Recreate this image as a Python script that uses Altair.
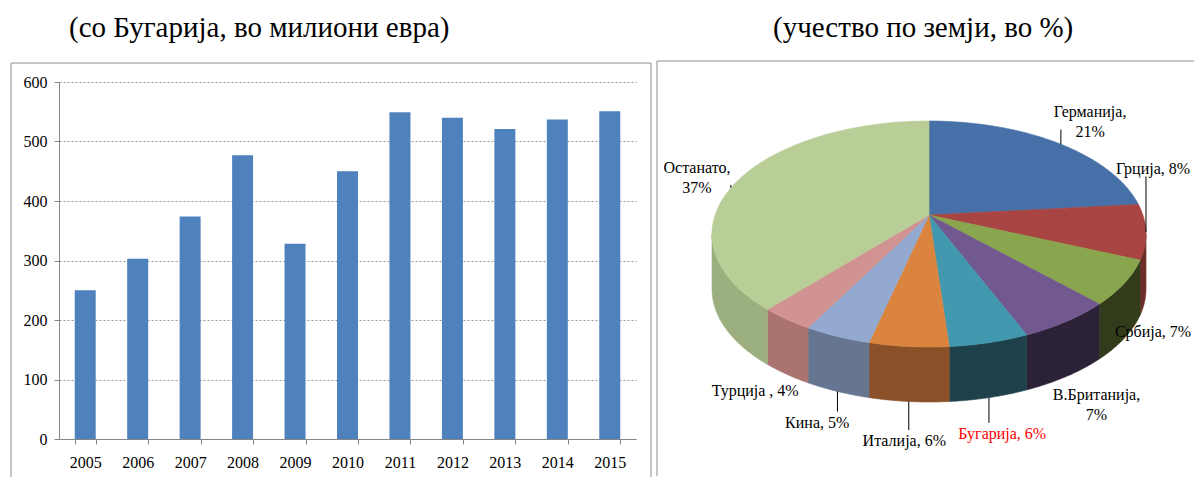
import altair as alt
import pandas as pd

# ---------------- data ----------------
years = ["2005", "2006", "2007", "2008", "2009", "2010", "2011", "2012", "2013", "2014", "2015"]
exports = [250, 303, 374, 477, 328, 450, 549, 540, 521, 537, 551]

countries = ["Германија", "Грција", "Србија", "В.Британија", "Бугарија",
             "Италија", "Кина", "Турција", "Останато"]
shares = [21, 8, 7, 7, 6, 6, 5, 4, 37]
labels = ["Германија,\n21%", "Грција, 8%", "Србија, 7%", "В.Британија,\n7%",
          "Бугарија, 6%", "Италија, 6%", "Кина, 5%", "Турција , 4%", "Останато,\n37%"]
has_leader = [True, True, False, False, True, True, True, False, True]

title_left = "(со Бугарија, во милиони евра)"
title_right = "(учество по земји, во %)"

top_colors = ["#4670A7", "#A84442", "#89A54E", "#71588F", "#4198AF",
              "#DB843D", "#93A9CF", "#D19392", "#B9CD96"]
wall_colors = ["#2F4A70", "#6E2C2A", "#323C1A", "#2B2238", "#1E414B",
               "#8A5128", "#667691", "#AA7370", "#9CAF7E"]

FONT = "Liberation Serif, Times New Roman, DejaVu Serif, serif"
FRAME = "#8C8C8C"

# ---------------- left panel: bar chart ----------------
W1, H1 = 577, 357
bar_df = pd.DataFrame({"year": years, "value": exports})
one = pd.DataFrame({"k": [0]})

bars = alt.Chart(bar_df).mark_bar(color="#4F81BD").encode(
    x=alt.X("year:O", sort=years,
            scale=alt.Scale(paddingInner=0.6, paddingOuter=0.3),
            axis=alt.Axis(title=None, labelAngle=0, labelFont=FONT, labelFontSize=16,
                          labelColor="black", domainColor="#868686", tickColor="#868686",
                          tickSize=5, tickBand="extent", labelPadding=10, grid=False)),
    y=alt.Y("value:Q", scale=alt.Scale(domain=[0, 600], nice=False),
            axis=alt.Axis(title=None, values=[0, 100, 200, 300, 400, 500, 600],
                          labelFont=FONT, labelFontSize=16, labelColor="black",
                          domainColor="#868686", tickColor="#868686", tickSize=5,
                          labelPadding=7, grid=True, gridColor="#9A9A9A",
                          gridDash=[2, 2], gridWidth=1)),
)

lf_left = alt.Chart(one).mark_rule(color=FRAME, strokeWidth=1).encode(
    x=alt.value(-48), y=alt.value(-19), y2=alt.value(395))
lf_right = alt.Chart(one).mark_rule(color=FRAME, strokeWidth=1).encode(
    x=alt.value(W1 + 15), y=alt.value(-19), y2=alt.value(395))
lf_top = alt.Chart(one).mark_rule(color=FRAME, strokeWidth=1).encode(
    x=alt.value(-48), x2=alt.value(W1 + 15), y=alt.value(-19))

t_left = alt.Chart(pd.DataFrame({"t": [title_left]})).mark_text(
    font=FONT, fontSize=29, align="left", baseline="top", color="black").encode(
    x=alt.value(10), y=alt.value(-68), text="t:N")

left = alt.layer(lf_left, lf_right, lf_top, bars, t_left).properties(width=W1, height=H1)

# ---------------- right panel: 3D-looking pie ----------------
W2, H2 = 537, 394
CX, CY, APY = 272, 152, 133
RX, RY, DEPTH = 217, 113, 55
N = 60
LX, LYB, LYF = 265, RY + 40, RY + DEPTH + 40
XLO, XHI = 40, 496

pie_df = pd.DataFrame({"name": countries, "value": shares, "label": labels,
                       "leader": has_leader, "order": list(range(len(countries)))})

xs = alt.Scale(domain=[0, W2], nice=False, zero=False)
ys = alt.Scale(domain=[0, H2], nice=False, zero=False, reverse=True)
top_scale = alt.Scale(domain=countries, range=top_colors)
wall_scale = alt.Scale(domain=countries, range=wall_colors)

base = alt.Chart(pie_df).transform_joinaggregate(
    total="sum(value)"
).transform_window(
    cum="sum(value)", sort=[alt.SortField("order")], frame=[None, 0]
).transform_calculate(
    a1="2*PI*(datum.cum - datum.value)/datum.total",
    a2="2*PI*datum.cum/datum.total",
).transform_calculate(
    mid="(datum.a1 + datum.a2)/2"
)

walls = base.transform_calculate(
    b1="max(datum.a1, PI/2)", b2="min(datum.a2, 3*PI/2)"
).transform_filter("datum.b2 > datum.b1").transform_calculate(
    seq=f"sequence(0, {2 * N + 2})"
).transform_flatten(["seq"]).transform_calculate(
    ang=f"datum.seq <= {N} ? datum.b1 + (datum.b2 - datum.b1)*datum.seq/{N} : "
        f"datum.b2 - (datum.b2 - datum.b1)*(datum.seq - {N} - 1)/{N}",
).transform_calculate(
    px=f"{CX} + {RX}*sin(datum.ang)",
    py=f"{CY} - {RY}*cos(datum.ang) + (datum.seq <= {N} ? 0 : {DEPTH})",
).mark_line(interpolate="linear-closed", strokeWidth=0.6).encode(
    x=alt.X("px:Q", scale=xs, axis=None),
    y=alt.Y("py:Q", scale=ys, axis=None),
    fill=alt.Fill("name:N", scale=wall_scale, legend=None),
    stroke=alt.Stroke("name:N", scale=wall_scale, legend=None),
    order="seq:Q",
    detail="name:N",
)

tops = base.transform_calculate(
    seq=f"sequence(0, {N + 2})"
).transform_flatten(["seq"]).transform_calculate(
    ang=f"datum.a1 + (datum.a2 - datum.a1)*max(datum.seq - 1, 0)/{N}"
).transform_calculate(
    px=f"datum.seq == 0 ? {CX} : {CX} + {RX}*sin(datum.ang)",
    py=f"datum.seq == 0 ? {APY} : {CY} - {RY}*cos(datum.ang)",
).mark_line(interpolate="linear-closed", strokeWidth=0.6).encode(
    x=alt.X("px:Q", scale=xs, axis=None),
    y=alt.Y("py:Q", scale=ys, axis=None),
    fill=alt.Fill("name:N", scale=top_scale, legend=None),
    stroke=alt.Stroke("name:N", scale=top_scale, legend=None),
    order="seq:Q",
    detail="name:N",
)

lab_base = base.transform_calculate(
    sn="sin(datum.mid)", cs="cos(datum.mid)"
).transform_calculate(
    front="datum.cs < 0 ? 1 : 0",
    rawx=f"{CX} + {LX}*datum.sn",
).transform_calculate(
    lx=f"clamp(datum.rawx, {XLO}, {XHI})",
    ox=f"max(0, datum.rawx - {XHI}) + max(0, {XLO} - datum.rawx)",
).transform_calculate(
    ly=f"{CY} - (datum.front ? {LYF} : {LYB})*datum.cs + (datum.cs > 0 ? -1 : 1)*datum.ox*datum.ox/27",
    nl="indexof(datum.label, '\\n') >= 0 ? 2 : 1",
)

texts = lab_base.mark_text(font=FONT, fontSize=16, lineBreak="\n", lineHeight=20,
                           align="center", baseline="middle").encode(
    x=alt.X("lx:Q", scale=xs, axis=None),
    y=alt.Y("ly:Q", scale=ys, axis=None),
    text="label:N",
    color=alt.condition(alt.datum.name == "Бугарија", alt.value("#FF0000"), alt.value("black")),
)

leaders = lab_base.transform_filter("datum.leader").transform_calculate(
    ex=f"{CX} + {RX}*datum.sn",
    ey=f"{CY} - {RY}*datum.cs + datum.front*{DEPTH}",
).transform_calculate(
    ey2="datum.front ? datum.ly - 10*datum.nl - 1 : datum.ly + 10*datum.nl - 3"
).transform_filter(
    "datum.front ? datum.ey2 > datum.ey : datum.ey2 < datum.ey"
).mark_rule(color="black", strokeWidth=1).encode(
    x=alt.X("ex:Q", scale=xs, axis=None),
    y=alt.Y("ey:Q", scale=ys, axis=None),
    y2="ey2:Q",
)

rf_left = alt.Chart(one).mark_rule(color=FRAME, strokeWidth=1).encode(
    x=alt.value(0), y=alt.value(-21), y2=alt.value(H2))
rf_top = alt.Chart(one).mark_rule(color=FRAME, strokeWidth=1).encode(
    x=alt.value(0), x2=alt.value(W2), y=alt.value(-21))

t_right = alt.Chart(pd.DataFrame({"t": [title_right]})).mark_text(
    font=FONT, fontSize=29, align="left", baseline="top", color="black").encode(
    x=alt.value(116), y=alt.value(-68), text="t:N")

right = alt.layer(rf_left, rf_top, walls, tops, leaders, texts, t_right).resolve_scale(
    fill="independent", stroke="independent"
).properties(width=W2, height=H2)

chart = alt.hconcat(left, right, spacing=21, bounds="flush").properties(
    padding={"left": 2, "top": 6, "right": 0, "bottom": 0}
).configure_view(stroke=None)

chart.save("out.html", embed_options={"renderer": "svg", "actions": False})
